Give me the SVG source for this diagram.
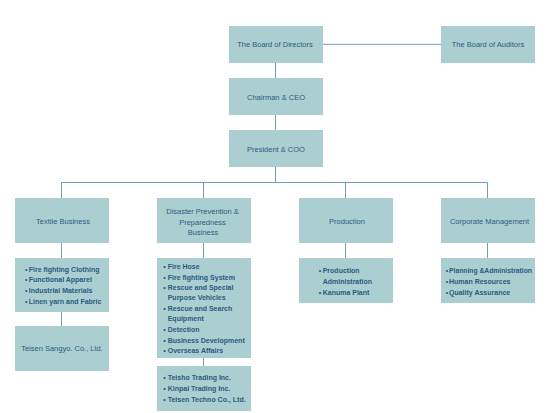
<svg xmlns="http://www.w3.org/2000/svg" width="550" height="413" viewBox="0 0 550 413">
<style>
.box{fill:#abcfd0}
.t{font-family:"Liberation Sans",Arial,sans-serif;font-size:7.5px;fill:#2c5c84;text-anchor:middle}
.i{font-family:"Liberation Sans",Arial,sans-serif;font-size:7px;font-weight:bold;fill:#2a5a80}
.ln{fill:none;stroke:#6f9fc2;stroke-width:1}
</style>
<rect width="550" height="413" fill="#fff"/>
<g id="connectors">
<path class="ln" d="M323 44.3H441"/>
<path class="ln" d="M275.5 63V78M275.5 115V130M275.5 167V182.5"/>
<path class="ln" d="M61.5 198V182.5H487.5V198M203.5 182.5V198M345.5 182.5V198"/>
<path class="ln" d="M61.5 243V258M61.5 312V326M203.5 243V258M203.5 358V366M345.5 243V258M487.5 243V258"/>
</g>
<g id="board-directors"><rect class="box" x="229" y="26" width="94" height="37"/><text class="t" x="275" y="46.9">The Board of Directors</text></g>
<g id="board-auditors"><rect class="box" x="441" y="26" width="94" height="37"/><text class="t" x="488" y="46.9">The Board of Auditors</text></g>
<g id="chairman"><rect class="box" x="229" y="78" width="94" height="37"/><text class="t" x="276" y="99.6">Chairman &amp; CEO</text></g>
<g id="president"><rect class="box" x="229" y="130" width="94" height="37"/><text class="t" x="276" y="151.6">President &amp; COO</text></g>
<g id="textile"><rect class="box" x="15" y="198" width="94" height="45"/><text class="t" x="63" y="223.6">Textile Business</text></g>
<g id="disaster"><rect class="box" x="157" y="198" width="94" height="45"/><text class="t" x="202.5" y="213.9">Disaster Prevention &amp;</text><text class="t" x="202.5" y="224.6">Preparedness</text><text class="t" x="203" y="234.6">Business</text></g>
<g id="production"><rect class="box" x="299" y="198" width="94" height="45"/><text class="t" x="347" y="223.6">Production</text></g>
<g id="corporate"><rect class="box" x="441" y="198" width="94" height="45"/><text class="t" x="489.5" y="223.6">Corporate Management</text></g>
<g id="textile-items"><rect class="box" x="15" y="258" width="94" height="54"/>
<text class="i" x="25" y="271.5">•<tspan x="28.7">Fire fighting Clothing</tspan></text>
<text class="i" x="25" y="281.5">•<tspan x="28.7">Functional Apparel</tspan></text>
<text class="i" x="25" y="292.5">•<tspan x="28.7">Industrial Materials</tspan></text>
<text class="i" x="25" y="303.5">•<tspan x="28.7">Linen yarn and Fabric</tspan></text>
</g>
<g id="teisen-sangyo"><rect class="box" x="15" y="326" width="94" height="45"/><text class="t" x="62" y="350.6">Teisen Sangyo. Co., Ltd.</text></g>
<g id="disaster-items"><rect class="box" x="157" y="258" width="94" height="100"/>
<text class="i" x="163.3" y="269.2">•<tspan x="167.7">Fire Hose</tspan></text>
<text class="i" x="163.3" y="279.5">•<tspan x="167.7">Fire fighting System</tspan></text>
<text class="i" x="163.3" y="290.2">•<tspan x="167.7">Rescue and Special</tspan></text>
<text class="i" x="167.7" y="299.5">Purpose Vehicles</text>
<text class="i" x="163.3" y="310.5">•<tspan x="167.7">Rescue and Search</tspan></text>
<text class="i" x="167.7" y="320.5">Equipment</text>
<text class="i" x="163.3" y="331.5">•<tspan x="167.7">Detection</tspan></text>
<text class="i" x="163.3" y="342.5">•<tspan x="167.7">Business Development</tspan></text>
<text class="i" x="163.3" y="353.2">•<tspan x="167.7">Overseas Affairs</tspan></text>
</g>
<g id="disaster-companies"><rect class="box" x="157" y="366" width="94" height="45"/>
<text class="i" x="163.3" y="380.2">•<tspan x="167.7">Teisho Trading Inc.</tspan></text>
<text class="i" x="163.3" y="391.2">•<tspan x="167.7">Kinpai Trading Inc.</tspan></text>
<text class="i" x="163.3" y="401.5">•<tspan x="167.7">Teisen Techno Co., Ltd.</tspan></text>
</g>
<g id="production-items"><rect class="box" x="299" y="258" width="94" height="45"/>
<text class="i" x="318.7" y="272.5">•<tspan x="322.7">Production</tspan></text>
<text class="i" x="322.7" y="283.5">Administration</text>
<text class="i" x="318.7" y="294.5">•<tspan x="322.7">Kanuma Plant</tspan></text>
</g>
<g id="corporate-items"><rect class="box" x="441" y="258" width="94" height="45"/>
<text class="i" x="445.7" y="272.5">•<tspan x="449" textLength="83" lengthAdjust="spacingAndGlyphs">Planning &amp;Administration</tspan></text>
<text class="i" x="445.7" y="283.5">•<tspan x="449">Human Resources</tspan></text>
<text class="i" x="445.7" y="294.5">•<tspan x="449">Quality Assurance</tspan></text>
</g>
</svg>
